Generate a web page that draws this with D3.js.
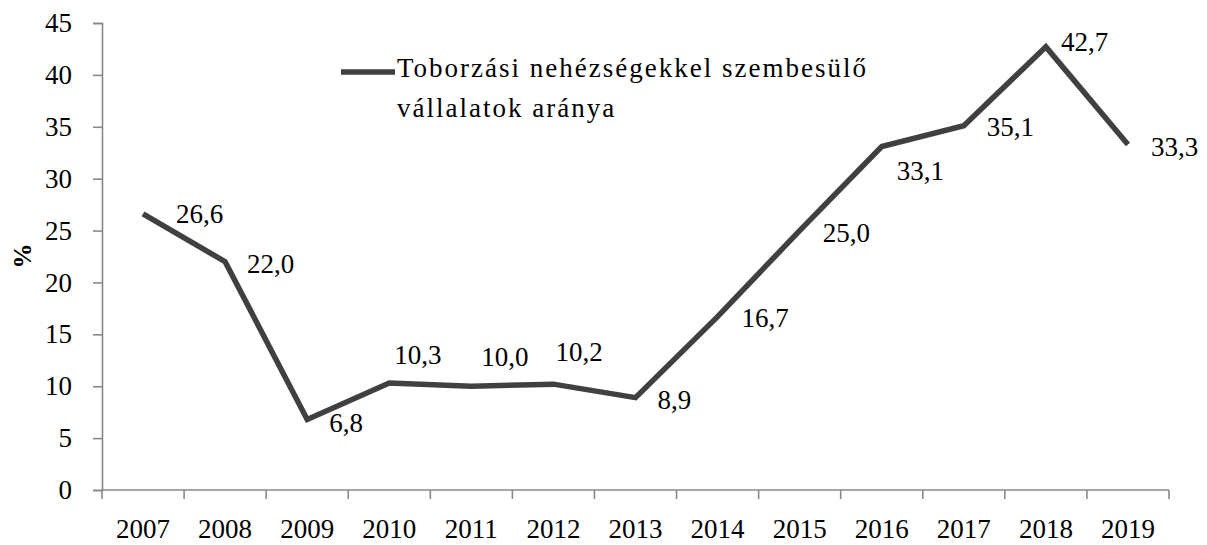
<!DOCTYPE html>
<html>
<head>
<meta charset="utf-8">
<script src="https://cdn.jsdelivr.net/npm/d3@7"></script>
<style>
  html, body { margin: 0; padding: 0; background: #ffffff; }
  svg { display: block; }
  svg text { font-family: "Liberation Serif", "Times New Roman", serif; fill: #000; }
</style>
</head>
<body>
<svg id="chart" width="1207" height="545"></svg>
<script>
// Share of firms facing recruitment difficulties, 2007–2019 (%)
const years = ["2007", "2008", "2009", "2010", "2011", "2012", "2013",
               "2014", "2015", "2016", "2017", "2018", "2019"];
const shares = [26.6, 22.0, 6.8, 10.3, 10.0, 10.2, 8.9,
                16.7, 25.0, 33.1, 35.1, 42.7, 33.3];
const yTicks = [0, 5, 10, 15, 20, 25, 30, 35, 40, 45];
const seriesName = ["Toborzási nehézségekkel szembesülő", "vállalatok aránya"];

// Per-point label nudges (dx from point to text start, dy of text centre)
const labelNudge = [
  [33, 0], [22, 2], [22, 3], [5, -29], [10, -30], [2, -33], [22, 2],
  [24, 1], [23, 2], [15, 24], [23, 1], [15, -5], [23, 2]
];

const svg = d3.select("#chart");
const margin = { left: 102, right: 38, top: 23, bottom: 55 };
const W = 1207, H = 545;
const plotW = W - margin.left - margin.right;
const plotH = H - margin.top - margin.bottom;

const x = d3.scaleBand().domain(years).range([0, plotW]).padding(0);
const y = d3.scaleLinear().domain([0, 45]).range([plotH, 0]);

const g = svg.append("g").attr("transform", `translate(${margin.left},${margin.top})`);

const axisColor = "#898989";
const serif = "'Liberation Serif', 'Times New Roman', serif";
const numSize = 27;

// Y axis
const yAxis = g.append("g")
  .attr("font-family", serif)
  .call(d3.axisLeft(y).tickValues(yTicks).tickSize(9).tickPadding(21).tickFormat(d3.format("d")));
yAxis.attr("font-family", serif);
yAxis.select(".domain").attr("stroke", axisColor).attr("stroke-width", 1.6);
yAxis.selectAll(".tick line").attr("stroke", axisColor).attr("stroke-width", 1.6);
yAxis.selectAll(".tick text")
  .attr("font-family", serif).attr("font-size", numSize).attr("fill", "#000");

// X axis: ticks sit on the category boundaries
const xAxisG = g.append("g").attr("transform", `translate(0,${plotH})`);
xAxisG.append("line")
  .attr("x1", 0).attr("x2", plotW).attr("y1", 0).attr("y2", 0)
  .attr("stroke", axisColor).attr("stroke-width", 1.6);
const boundaries = years.map(d => x(d)).concat([plotW]);
xAxisG.selectAll("line.tk").data(boundaries).enter().append("line")
  .attr("class", "tk")
  .attr("x1", d => d).attr("x2", d => d).attr("y1", 0).attr("y2", 9)
  .attr("stroke", axisColor).attr("stroke-width", 1.6);
xAxisG.selectAll("text.yr").data(years).enter().append("text")
  .attr("class", "yr")
  .attr("x", d => x(d) + x.bandwidth() / 2)
  .attr("y", 48)
  .attr("text-anchor", "middle")
  .attr("font-family", serif)
  .attr("font-size", numSize)
  .text(d => d);

// Y axis title
svg.append("text")
  .attr("transform", "translate(31,256) rotate(-90)")
  .attr("text-anchor", "middle")
  .attr("font-family", serif)
  .attr("font-size", 25)
  .attr("font-weight", "bold")
  .text("%");

// Line
const cx = i => x(years[i]) + x.bandwidth() / 2;
const line = d3.line().x((d, i) => cx(i)).y(d => y(d));
g.append("path")
  .datum(shares)
  .attr("fill", "none")
  .attr("stroke", "#404040")
  .attr("stroke-width", 5.5)
  .attr("stroke-linejoin", "miter")
  .attr("d", line);

// Data labels
const fmt = v => d3.format(".1f")(v).replace(".", ",");
g.selectAll("text.lbl").data(shares).enter().append("text")
  .attr("class", "lbl")
  .attr("x", (d, i) => cx(i) + labelNudge[i][0])
  .attr("y", (d, i) => y(d) + labelNudge[i][1])
  .attr("dy", "0.35em")
  .attr("font-family", serif)
  .attr("font-size", numSize)
  .text(d => fmt(d));

// Legend
const leg = svg.append("g");
leg.append("line")
  .attr("x1", 341).attr("x2", 395).attr("y1", 72).attr("y2", 72)
  .attr("stroke", "#404040").attr("stroke-width", 5.5);
leg.selectAll("text").data(seriesName).enter().append("text")
  .attr("x", 397)
  .attr("y", (d, i) => 77 + i * 40)
  .attr("font-family", serif)
  .attr("font-size", 27)
  .attr("letter-spacing", 2)
  .text(d => d);
</script>
</body>
</html>
